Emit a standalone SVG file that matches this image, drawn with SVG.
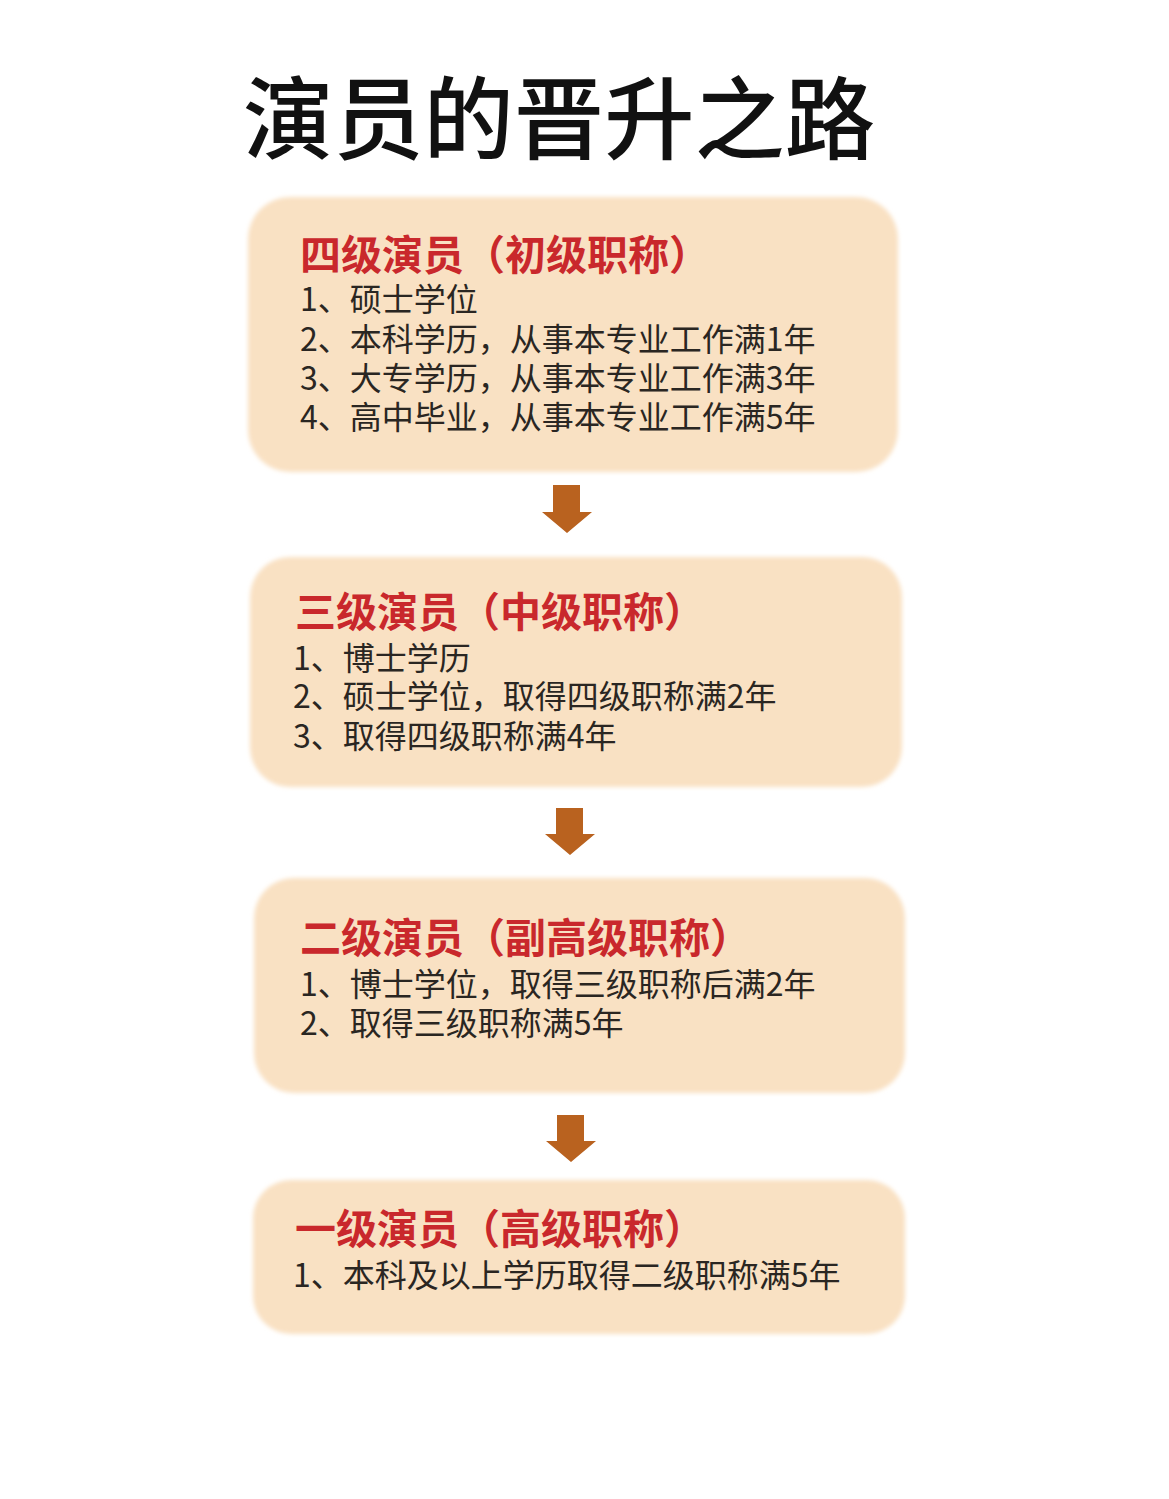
<svg xmlns="http://www.w3.org/2000/svg" width="1169" height="1499" viewBox="0 0 1169 1499">
<defs>
<style>
.box{fill:#f9e1c3;}
.head{font-family:"Noto Sans CJK SC","Noto Sans CJK JP",sans-serif;font-weight:700;font-size:41px;fill:#c9282c;}
.item{font-family:"Noto Sans CJK SC","Noto Sans CJK JP",sans-serif;font-weight:400;font-size:32px;fill:#2a2622;}
.title{font-family:"Noto Sans CJK SC","Noto Sans CJK JP",sans-serif;font-weight:500;font-size:90px;fill:#111;}
.arrow{fill:#b9621f;}
</style>
<filter id="soft" x="-5%" y="-5%" width="110%" height="110%"><feGaussianBlur stdDeviation="2"/></filter>
</defs>
<rect width="1169" height="1499" fill="#ffffff"/>
<text class="title" x="243" y="152" textLength="632" lengthAdjust="spacingAndGlyphs">演员的晋升之路</text>

<g id="node-level4">
<rect class="box" x="248" y="197" width="650" height="275" rx="42" filter="url(#soft)"/>
<text class="head" x="300" y="270">四级演员（初级职称）</text>
<text class="item" x="300" y="311">1、硕士学位</text>
<text class="item" x="300" y="351">2、本科学历，从事本专业工作满1年</text>
<text class="item" x="300" y="390">3、大专学历，从事本专业工作满3年</text>
<text class="item" x="300" y="429">4、高中毕业，从事本专业工作满5年</text>
</g>

<g id="node-level3">
<rect class="box" x="250" y="557" width="652" height="230" rx="40" filter="url(#soft)"/>
<text class="head" x="295" y="627">三级演员（中级职称）</text>
<text class="item" x="293" y="670">1、博士学历</text>
<text class="item" x="293" y="708">2、硕士学位，取得四级职称满2年</text>
<text class="item" x="293" y="748">3、取得四级职称满4年</text>
</g>

<g id="node-level2">
<rect class="box" x="254" y="878" width="651" height="215" rx="40" filter="url(#soft)"/>
<text class="head" x="300" y="953">二级演员（副高级职称）</text>
<text class="item" x="300" y="996">1、博士学位，取得三级职称后满2年</text>
<text class="item" x="300" y="1035">2、取得三级职称满5年</text>
</g>

<g id="node-level1">
<rect class="box" x="253" y="1180" width="652" height="154" rx="38" filter="url(#soft)"/>
<text class="head" x="295" y="1244">一级演员（高级职称）</text>
<text class="item" x="293" y="1287">1、本科及以上学历取得二级职称满5年</text>
</g>

<g id="connectors">
<path class="arrow" d="M553 485 H580 V512 H592 L567 533 L542 512 H553 Z"/>
<path class="arrow" d="M556 808 H583 V834 H595 L570 855 L545 834 H556 Z"/>
<path class="arrow" d="M557 1115 H584 V1141 H596 L571 1162 L546 1141 H557 Z"/>
</g>
</svg>
